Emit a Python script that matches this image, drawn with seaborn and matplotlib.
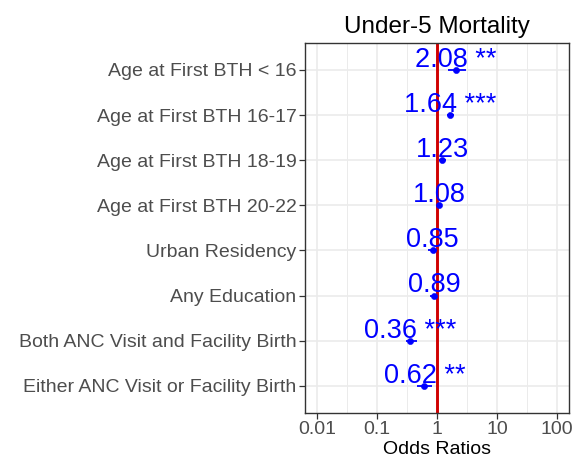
import matplotlib
matplotlib.use("Agg")
import matplotlib.pyplot as plt
import matplotlib.ticker as mticker
import numpy as np
import pandas as pd
import seaborn as sns

## data
labels = ['Age at First BTH < 16', 'Age at First BTH 16-17', 'Age at First BTH 18-19',
          'Age at First BTH 20-22', 'Urban Residency', 'Any Education',
          'Both ANC Visit and Facility Birth', 'Either ANC Visit or Facility Birth']
odds = [2.08, 1.64, 1.23, 1.08, 0.85, 0.89, 0.36, 0.62]
ci_low = [1.55, 1.45, 1.08, 1.0, 0.72, 0.78, 0.31, 0.47]
ci_high = [3.0, 1.9, 1.4, 1.17, 1.0, 1.02, 0.46, 0.83]
stars = ['**', '***', '', '', '', '', '***', '**']

df = pd.DataFrame({'var': labels, 'OR': odds, 'lo': ci_low, 'hi': ci_high, 'sig': stars})

sns.set_theme(style='whitegrid')
plt.rcParams['font.family'] = ['Liberation Sans', 'DejaVu Sans']

fig = plt.figure(figsize=(5.83, 4.65), dpi=100)
ax = fig.add_axes([0.523, 0.112, 0.453, 0.796])

ypos = np.arange(len(labels))
ax.hlines(ypos, df['lo'], df['hi'], color='blue', lw=1.3, zorder=3)
sns.scatterplot(x=df['OR'], y=ypos, color='blue', s=20, edgecolor='blue', ax=ax, zorder=4)
ax.axvline(1, color='#D00000', lw=2.1, zorder=2)

for y, v, s in zip(ypos, df['OR'], df['sig']):
    txt = f'{v:.2f}' + (f' {s}' if s else '')
    ax.text(v, y - 0.07, txt, color='blue', fontsize=19.5, ha='center', va='baseline', zorder=5)

ax.set_xscale('log')
ax.set_xlim(10**-2.2, 10**2.2)
ax.set_ylim(len(labels) - 0.4, -0.6)
ax.set_xticks([0.01, 0.1, 1, 10, 100])
ax.set_xticklabels(['0.01', '0.1', '1', '10', '100'])
ax.xaxis.set_minor_locator(mticker.FixedLocator(10 ** np.array([-2.5, -1.5, -0.5, 0.5, 1.5, 2.5])))
ax.xaxis.set_minor_formatter(mticker.NullFormatter())
ax.set_yticks(ypos)
ax.set_yticklabels(labels)

ax.grid(which='major', color='#EBEBEB', lw=1.2)
ax.grid(which='minor', axis='x', color='#EBEBEB', lw=0.7)
ax.set_axisbelow(True)
for sp in ax.spines.values():
    sp.set_color('#333333')
    sp.set_linewidth(1.0)

ax.tick_params(axis='both', which='major', length=4, width=0.9, color='#333333',
               labelcolor='#4D4D4D', labelsize=14, pad=2, left=True, bottom=True)
ax.tick_params(axis='x', which='minor', length=0)
ax.set_xlabel('Odds Ratios', fontsize=14, color='black', labelpad=2)
ax.set_ylabel('')
ax.set_title('Under-5 Mortality', fontsize=17.5, color='black', pad=7)

fig.savefig('out.png', dpi=100)
